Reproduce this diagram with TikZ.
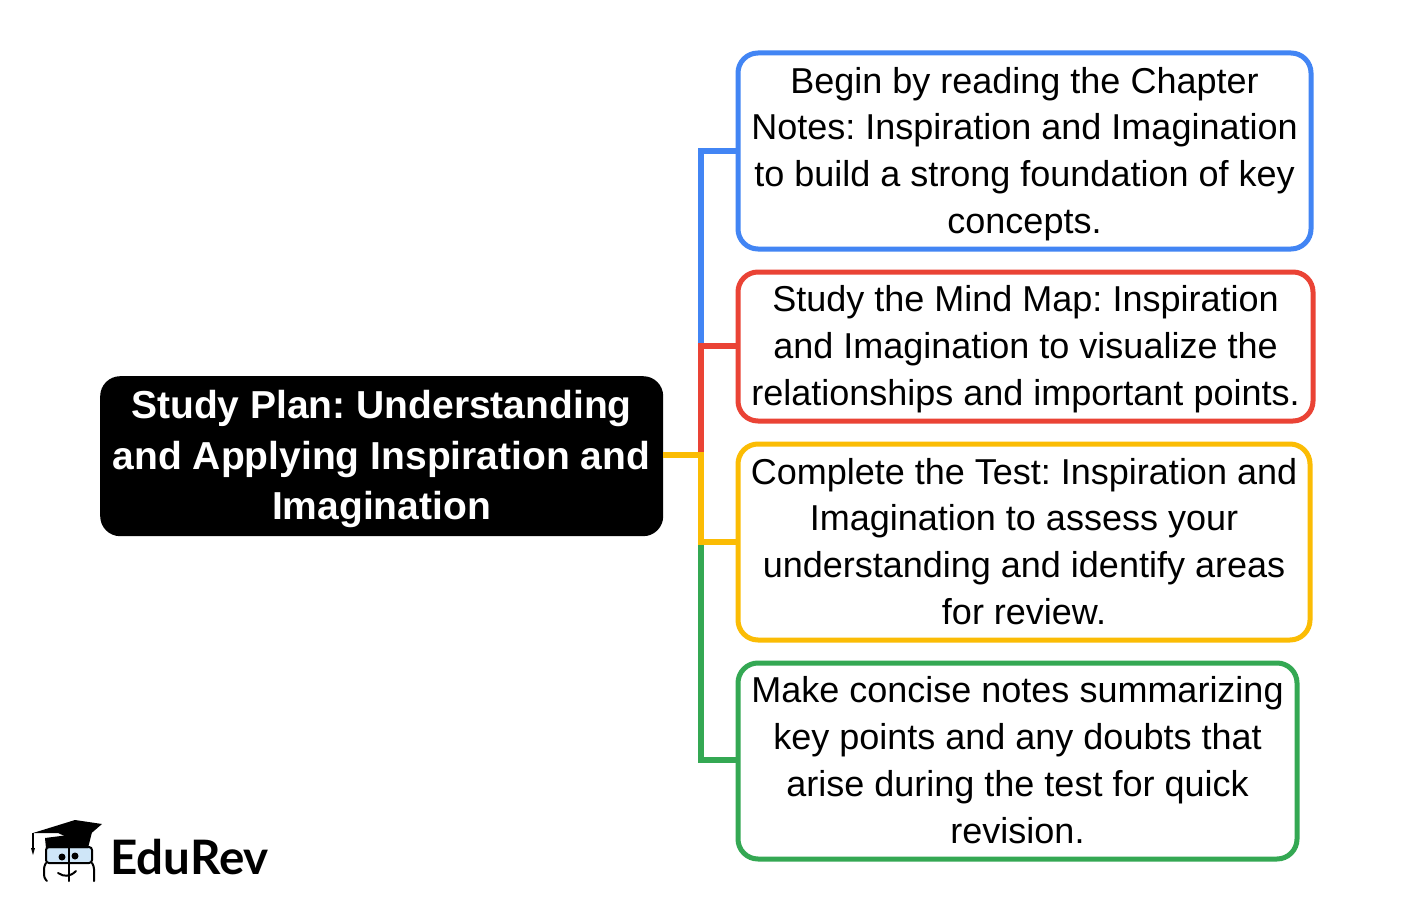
\documentclass[tikz,border=0pt]{standalone}
\usepackage{fontspec}
\setmainfont{Liberation Sans}
\newfontfamily\lato{Lato}
\frenchspacing
\definecolor{cblue}{HTML}{4285F4}
\definecolor{cred}{HTML}{EA4335}
\definecolor{cyellow}{HTML}{FBBC04}
\definecolor{cgreen}{HTML}{34A853}
\definecolor{glass}{HTML}{CFE6F8}
\tikzset{
  leaftext/.style={align=center,font=\frenchspacing\fontsize{36}{46.8}\selectfont,text=black},
  conn/.style={draw=#1,line width=6pt,miter limit=10},
  leafbox/.style={line width=5pt,draw=#1,rounded corners=20pt},
  rootbox/.style={fill=black,rounded corners=20pt,inner sep=0pt,anchor=north west,minimum width=563pt,minimum height=160pt},
  logoline/.style={draw=black,line width=2pt,line cap=round,line join=round},
}
\begin{document}
\begin{tikzpicture}[x=1pt,y=-1pt]
\useasboundingbox (0,0) rectangle (1416,912);
\fill[white] (0,0) rectangle (1416,912);
% boxes
\coordinate (b1nw) at (738,53); \coordinate (b1se) at (1311,249);
\coordinate (b2nw) at (738,272); \coordinate (b2se) at (1313,421);
\coordinate (b3nw) at (738,444); \coordinate (b3se) at (1310,640);
\coordinate (b4nw) at (738,663); \coordinate (b4se) at (1297,859);
\node[rootbox] (root) at (100,376) {};
\node[text=white,align=center,font=\frenchspacing\bfseries\fontsize{39}{50.8}\selectfont,anchor=center] (roottext) at (381.5,459)
  {Study Plan: Understanding\\and Applying Inspiration and\\Imagination};
% connectors
\coordinate (j1) at (701,151);
\coordinate (j2) at (701,346);
\coordinate (j3) at (701,455);
\coordinate (j4) at (701,542);
\coordinate (j5) at (701,760);
\node[inner sep=0pt,minimum size=0pt] (t1) at (738,151) {};
\node[inner sep=0pt,minimum size=0pt] (t2) at (738,346) {};
\node[inner sep=0pt,minimum size=0pt] (t3) at (738,542) {};
\node[inner sep=0pt,minimum size=0pt] (t4) at (738,760) {};
\node[inner sep=0pt,minimum size=0pt] (t0) at (663,455) {};
\draw[conn=cblue] (j2) -- (j1) -- (t1);
\draw[conn=cgreen] (j4) -- (j5) -- (t4);
\draw[conn=cred] (j3) -- (j2) -- (t2);
\draw[conn=cyellow] (t0) -- (j3) -- (j4) -- (t3);
\draw[leafbox=cblue] (b1nw) rectangle (b1se);
\draw[leafbox=cred] (b2nw) rectangle (b2se);
\draw[leafbox=cyellow] (b3nw) rectangle (b3se);
\draw[leafbox=cgreen] (b4nw) rectangle (b4se);
\node[leaftext] (l1) at (1024.5,154) {Begin by reading the Chapter\\Notes: Inspiration and Imagination\\to build a strong foundation of key\\concepts.};
\node[leaftext] (l2) at (1025.5,349) {Study the Mind Map: Inspiration\\and Imagination to visualize the\\relationships and important points.};
\node[leaftext] (l3) at (1024,541.5) {Complete the Test: Inspiration and\\Imagination to assess your\\understanding and identify areas\\for review.};
\node[leaftext] (l4) at (1017.5,760) {Make concise notes summarizing\\key points and any doubts that\\arise during the test for quick\\revision.};
% logo
\fill[glass,rounded corners=3pt] (46,847) rectangle (92,863);
\draw[logoline,rounded corners=3pt] (46,847) rectangle (92,863);
\draw[logoline,rounded corners=3pt] (46,863) -- (44,866) -- (44,878) -- (47,881);
\draw[logoline,rounded corners=3pt] (92,863) -- (94,866) -- (94,881);
\draw[logoline] (69,843) -- (69,881);
\fill[black] (45,838) -- (92,832) -- (88,848) -- (46,848) -- cycle;
\fill[black] (33,833) -- (75,820) -- (102,824) -- (80,843) -- (58,833) -- cycle;
\draw[black,line width=1.2pt] (33,833) -- (33,848);
\fill[black] (31,848) -- (35,848) -- (33,855) -- cycle;
\fill[black] (62,857) circle (3.5pt) (75,856) circle (3.5pt);
\draw[logoline] (58,873) .. controls (64,877) and (70,877) .. (76,871);
\node[font=\lato\bfseries\fontsize{47.5}{50}\selectfont,anchor=west,inner sep=0pt,text=black] (brand) at (110,857) {EduRev};
\end{tikzpicture}
\end{document}
